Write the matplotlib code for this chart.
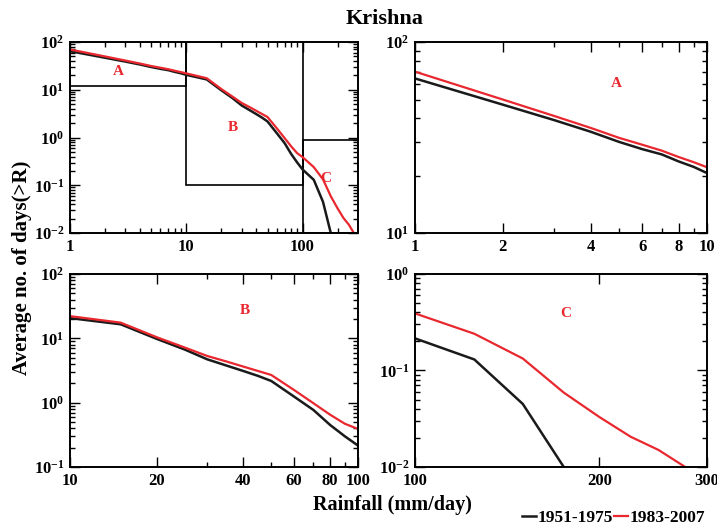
import numpy as np
import matplotlib
matplotlib.use("Agg")
import matplotlib.pyplot as plt
from matplotlib.patches import Rectangle
from matplotlib.lines import Line2D
from matplotlib.ticker import FixedLocator, NullFormatter

plt.rcParams['font.family'] = ['Liberation Serif', 'DejaVu Serif']
plt.rcParams['font.weight'] = 'bold'
plt.rcParams['mathtext.fontset'] = 'custom'
plt.rcParams['mathtext.rm'] = 'Liberation Serif:bold'
plt.rcParams['mathtext.it'] = 'Liberation Serif:bold'
plt.rcParams['mathtext.bf'] = 'Liberation Serif:bold'

# rainfall thresholds R (mm/day) and mean number of days exceeding R
rain = [1, 2, 3, 4, 5, 6, 7, 8, 9, 10, 15, 20, 25, 30, 35, 40, 45, 50, 60, 70,
        80, 90, 100, 125, 150, 175, 200, 225, 250, 275, 300]
days_1951_1975 = [64.5, 47, 39, 33.9, 30, 27.5, 25.8, 23.7, 22.2, 20.6, 16.5, 9.8,
                  6.7, 4.7, 3.76, 3.1, 2.6, 2.17, 1.24, 0.77, 0.45, 0.30, 0.215,
                  0.13, 0.045, 0.01, np.nan, np.nan, np.nan, np.nan, np.nan]
days_1983_2007 = [70, 50, 41, 35.5, 31.5, 29, 27, 25, 23.5, 22.1, 17.5, 10.4,
                  7.2, 5.3, 4.35, 3.63, 3.1, 2.69, 1.57, 0.98, 0.65, 0.47, 0.39,
                  0.24, 0.133, 0.059, 0.033, 0.0206, 0.015, 0.0102, 0.007]

# ranges zoomed in the A, B, C panels: (x0, x1, y0, y1)
range_A = (1, 10, 12, 100)
range_B = (10, 100, 0.1, 100)
range_C = (100, 300, 0.01, 0.9)

c_old = '#1a1a1a'
c_new = '#e8282e'

fig = plt.figure(figsize=(7.17, 5.26), dpi=100)
ax_all = fig.add_axes([0.0976, 0.557, 0.4017, 0.363])
ax_a = fig.add_axes([0.5788, 0.557, 0.4073, 0.363])
ax_b = fig.add_axes([0.0976, 0.1122, 0.4017, 0.367])
ax_c = fig.add_axes([0.5788, 0.1122, 0.4073, 0.367])


def minor_decades(lo, hi):
    return [m * 10.0 ** e for e in range(lo, hi) for m in range(2, 10)]


def draw(ax, xlim, ylim, xt, xminor, yt):
    ax.plot(rain, days_1951_1975, color=c_old, lw=1.8)
    ax.plot(rain, days_1983_2007, color=c_new, lw=1.6)
    ax.set_xscale('log')
    ax.set_yscale('log')
    ax.set_xlim(xlim)
    ax.set_ylim(ylim)
    ax.set_xticks(xt, [str(v) for v in xt])
    ax.xaxis.set_minor_locator(FixedLocator(xminor))
    ax.xaxis.set_minor_formatter(NullFormatter())
    ax.set_yticks(yt, ['$10^{%d}$' % round(np.log10(v)) for v in yt])
    ax.yaxis.set_minor_locator(FixedLocator(
        minor_decades(round(np.log10(ylim[0])), round(np.log10(ylim[1])))))
    ax.yaxis.set_minor_formatter(NullFormatter())
    ax.tick_params(which='both', direction='in', top=True, right=True,
                   labelsize=12, width=1.0, pad=4)
    ax.tick_params(which='major', length=7)
    ax.tick_params(which='minor', length=3.5)
    for s in ax.spines.values():
        s.set_linewidth(1.4)


draw(ax_all, (1, 300), (0.01, 100), [1, 10, 100],
     [v for v in minor_decades(0, 3) if v < 300], [0.01, 0.1, 1, 10, 100])
for (x0, x1, y0, y1) in (range_A, range_B, range_C):
    ax_all.add_patch(Rectangle((x0, y0), x1 - x0, y1 - y0, fill=False,
                               ec='black', lw=1.2, zorder=1))

draw(ax_a, (1, 10), (10, 100), [1, 2, 4, 6, 8, 10], [3, 5, 7, 9], [10, 100])
draw(ax_b, (10, 100), (0.1, 100), [10, 20, 40, 60, 80, 100], [30, 50, 70, 90],
     [0.1, 1, 10, 100])
draw(ax_c, (100, 300), (0.01, 1), [100, 200, 300], [], [0.01, 0.1, 1])

# panel letters
lab = dict(color=c_new, fontsize=11, fontweight='bold', ha='center', va='center')
ax_all.text(2.6, 24, 'A', **lab)
ax_all.text(25, 1.6, 'B', **lab)
ax_all.text(158, 0.14, 'C', **lab)
ax_a.text(4.9, 61, 'A', **lab)
ax_b.text(40.5, 27, 'B', **lab)
ax_c.text(176, 0.39, 'C', **lab)

fig.text(0.536, 0.964, 'Krishna', ha='center', va='center', fontsize=16, fontweight='bold')
fig.text(0.031, 0.49, 'Average no. of days(>R)', rotation=90, ha='center',
         va='center', fontsize=15, fontweight='bold')
fig.text(0.547, 0.04, 'Rainfall (mm/day)', ha='center', va='center',
         fontsize=14.5, fontweight='bold')

handles = [Line2D([], [], color=c_old, lw=1.8), Line2D([], [], color=c_new, lw=1.6)]
fig.legend(handles, ['1951-1975', '1983-2007'], ncol=2, frameon=False,
           loc='lower right', bbox_to_anchor=(1.005, -0.03), handlelength=0.8,
           handletextpad=0.1, columnspacing=0.05, fontsize=12.5)

fig.savefig('out.png', dpi=100)
